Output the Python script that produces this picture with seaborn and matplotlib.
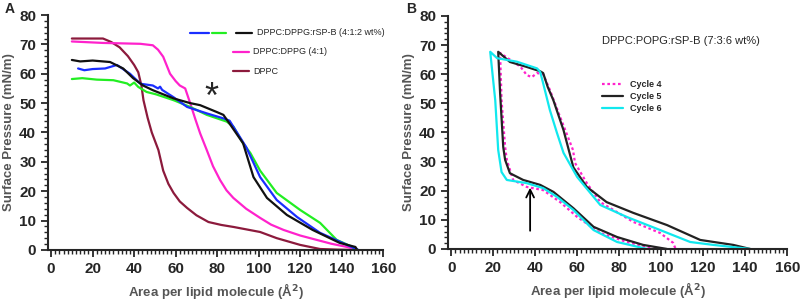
import numpy as np
import pandas as pd
import matplotlib
matplotlib.use('Agg')
import matplotlib.pyplot as plt
from matplotlib.ticker import MultipleLocator
import seaborn as sns

# ---- panel A data (area per lipid, surface pressure) ----
dppc_x = [10, 18, 25, 29, 33, 37, 40, 42, 43.5, 44.5, 46.5, 48.5, 51.7, 54, 56.5, 59, 62, 65.5, 70, 75.8, 82, 88, 100.7, 108.7, 120, 129.6, 138, 145]
dppc_y = [72, 72, 72, 70.8, 69, 66, 63, 60.5, 56, 51, 45, 40, 34, 27, 22.5, 19.4, 16.5, 14.3, 11.8, 9.5, 8.5, 7.8, 6.1, 4, 1.7, 0.3, 0.1, 0]

dppg_x = [10, 25, 43, 49, 51.5, 54, 57.3, 60, 62, 64.6, 67, 69.5, 71.8, 75, 78, 81.4, 84.5, 87.8, 94, 100.7, 106, 112, 120, 128, 135, 142.6, 146]
dppg_y = [71, 70.5, 70.2, 69.7, 68.2, 65.8, 60, 57.5, 56, 55, 50, 44.5, 39.7, 34, 28.5, 23.8, 20.3, 17.7, 14, 10.9, 8.6, 6.8, 4.9, 3.4, 2.1, 1.0, 0.3]

black_x = [10, 14, 20, 28.4, 34.7, 39.5, 44.3, 49, 59, 67, 71.8, 79.7, 83, 86, 92.5, 97.5, 104, 113.6, 126, 139, 146.6, 147.5]
black_y = [64.7, 64.2, 64.5, 64, 61.8, 58.5, 56, 54.4, 51.6, 50, 49.3, 47, 46, 43, 36.3, 24.8, 17.7, 11.9, 6.8, 2.4, 1.0, 0]

blue_x = [13, 16, 20, 26, 31.7, 38, 43, 49, 51.5, 52.5, 53.5, 59, 65.5, 75, 83, 86, 94, 100.7, 108.7, 118.5, 129.6, 142.6, 148]
blue_y = [61.8, 61.2, 61.6, 61.8, 63, 60, 56.6, 56, 55, 55.6, 54.5, 52, 48.7, 46.5, 44.8, 44, 35, 24.8, 17, 11.2, 5.8, 1.7, 0]

green_x = [10, 15, 22, 30, 36.6, 38, 40, 42, 46, 50.5, 59, 67, 75, 84.6, 87.8, 92.5, 96, 100.7, 108.7, 120, 129.6, 137.6, 144.6, 147]
green_y = [58.2, 58.5, 58, 57.8, 56.7, 56, 57, 55.5, 53.8, 53, 51, 48.7, 46, 43.7, 42, 36.3, 33, 27, 19.4, 13.6, 9.2, 3.4, 1.2, 0]

# ---- panel B data (compression branch, left edge, expansion branch) ----
c4_x = [106.7, 105.7, 99.5, 86.7, 71, 64.6, 59, 58, 51.9, 47, 43.8, 40.9, 38.4, 36, 33, 28, 23.3,
        24, 25.7, 26.5, 29.5, 36, 43.8, 51.9, 60, 71, 83.6, 93.3, 97]
c4_y = [0.3, 2.1, 5.5, 9.3, 16.1, 22.6, 29.5, 34, 45.3, 54.6, 60, 60.4, 59, 59.7, 62.6, 65, 67.3,
        51, 35, 30.6, 23.7, 21.3, 20.2, 16.1, 11, 5.5, 2.4, 0.7, 0]

c5_x = [142.4, 134.3, 118.6, 102.8, 86.7, 74, 64.6, 58.2, 53.5, 48.7, 46, 43.8, 42.4, 36, 28, 22.4,
        23.3, 24.8, 25.7, 28, 34.3, 42.4, 48.7, 58.2, 67.8, 79, 91.4, 102.8]
c5_y = [0, 1.4, 3.1, 8.2, 12.4, 16.1, 21.3, 28, 40.8, 51, 55.6, 60.4, 61, 62.5, 64.2, 67.7,
        53.6, 35, 30.6, 26, 23.7, 22, 19.6, 14, 7.6, 4.1, 1.4, 0]

c6_x = [142.4, 124.8, 113.8, 99.5, 83.6, 71, 60, 53.5, 50.4, 47, 43.8, 42.4, 40.9, 31.3, 21.9, 18.6,
        21, 22.4, 24, 26.5, 36, 43.8, 50.4, 58.2, 67.8, 79, 93.3]
c6_y = [0, 1.4, 2.4, 6.5, 11, 15.1, 24.7, 33, 39.8, 47.7, 56.9, 60.8, 62, 64.3, 65.5, 67.7,
        51, 34, 26.4, 23.7, 22.6, 20.9, 17.9, 13.4, 6.5, 2.4, 0]

sns.set_style('ticks')
plt.rcParams['font.family'] = ['Liberation Sans', 'DejaVu Sans']

fig = plt.figure(figsize=(8, 3.07), dpi=100)
axA = fig.add_axes([0.06, 0.186, 0.419, 0.765])
axB = fig.add_axes([0.56, 0.189, 0.424, 0.759])


def draw(ax, x, y, color, label, **kw):
    df = pd.DataFrame({'x': x, 'y': y})
    sns.lineplot(data=df, x='x', y='y', sort=False, estimator=None, color=color,
                 lw=1.6, ax=ax, label=label, **kw)


draw(axA, dppc_x, dppc_y, '#8c1a3c', 'DPPC')
draw(axA, dppg_x, dppg_y, '#ff22cc', 'DPPC:DPPG (4:1)')
draw(axA, green_x, green_y, '#22ee22', None)
draw(axA, blue_x, blue_y, '#1a2eff', None)
draw(axA, black_x, black_y, '#111111', None)

draw(axB, c4_x, c4_y, '#ff22cc', 'Cycle 4', linestyle=(0, (1.2, 1.2)))
draw(axB, c5_x, c5_y, '#222222', 'Cycle 5')
draw(axB, c6_x, c6_y, '#11e8ee', 'Cycle 6')

gray = '#555555'
for ax in (axA, axB):
    ax.set_xlim(-1.5, 160)
    ax.set_ylim(0, 80)
    ax.xaxis.set_major_locator(MultipleLocator(20))
    ax.xaxis.set_minor_locator(MultipleLocator(2))
    ax.yaxis.set_major_locator(MultipleLocator(10))
    ax.yaxis.set_minor_locator(MultipleLocator(2))
    ax.tick_params(which='major', length=5, width=1.3, labelsize=11)
    ax.tick_params(which='minor', length=3, width=1)
    for lab in ax.get_xticklabels() + ax.get_yticklabels():
        lab.set_fontweight('bold')
    for s in ('top', 'right'):
        ax.spines[s].set_visible(False)
    for s in ('left', 'bottom'):
        ax.spines[s].set_linewidth(1.5)
    ax.set_xlabel('Area per lipid molecule (Å$^{\\mathbf{2}}$)', fontsize=9.5,
                  fontweight='bold', color=gray, labelpad=4)
    ax.set_ylabel('Surface Pressure (mN/m)', fontsize=9.5, fontweight='bold',
                  color=gray, labelpad=3)
    ax.get_legend().remove()

# panel A legend drawn by hand
axA.plot([67, 76], [74, 74], color='#1a2eff', lw=1.6)
axA.plot([77.5, 84.5], [74, 74], color='#22ee22', lw=1.6)
axA.plot([89, 97], [74, 74], color='#111111', lw=1.6)
axA.text(99, 74, 'DPPC:DPPG:rSP-B (4:1:2 wt%)', fontsize=6.5, va='center')
axA.plot([87.5, 95.5], [67.5, 67.5], color='#ff22cc', lw=1.6)
axA.text(97.5, 67.5, 'DPPC:DPPG (4:1)', fontsize=6.5, va='center')
axA.plot([87.5, 95.5], [60.8, 60.8], color='#8c1a3c', lw=1.6)
axA.text(97.5, 60.8, 'DPPC', fontsize=6.5, va='center')
axA.text(77, 51.5, '*', fontsize=26, ha='center', va='center')

axB.text(72, 71.5, 'DPPC:POPG:rSP-B (7:3:6 wt%)', fontsize=8, va='center')
axB.legend(loc='upper left', bbox_to_anchor=(0.43, 0.76), frameon=False,
           prop={'weight': 'bold', 'size': 6.5}, handlelength=2.3, labelspacing=0.35)
axB.annotate('', xy=(37.6, 22), xytext=(37.6, 5.3),
             arrowprops=dict(arrowstyle='->', lw=1.3, color='black', mutation_scale=14))

fig.text(0.006, 0.97, 'A', fontsize=10, fontweight='bold', va='center')
fig.text(0.508, 0.97, 'B', fontsize=10, fontweight='bold', va='center')

fig.savefig('out.png', dpi=100)
